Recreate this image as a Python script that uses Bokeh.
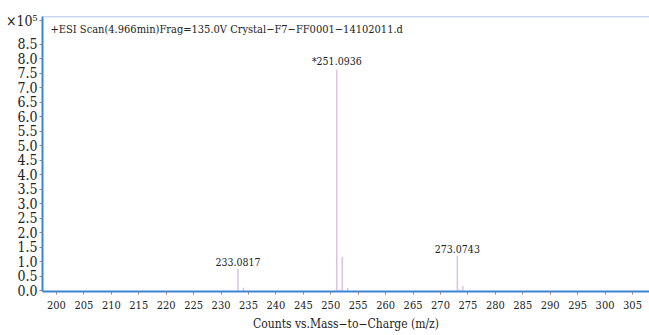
from bokeh.plotting import figure
from bokeh.models import ColumnDataSource, Label, Span, FixedTicker, NumeralTickFormatter, Range1d
from bokeh.core.properties import value
from bokeh.embed import file_html
from bokeh.resources import INLINE

# Data (intensity in units of 1e5 counts)
mz = [233.0817, 234.085, 251.0936, 251.6, 252.097, 253.09, 273.0743, 273.45, 274.078]
intensity = [0.75, 0.10, 7.62, 0.04, 1.16, 0.10, 1.20, 0.05, 0.16]
label_mz = [233.0817, 251.0936, 273.0743]
label_int = [0.75, 7.62, 1.20]
label_text = ["233.0817", "*251.0936", "273.0743"]
x_ticks = [200, 205, 210, 215, 220, 225, 230, 235, 240, 245, 250, 255, 260, 265, 270, 275, 280, 285, 290, 295, 300, 305]
y_ticks = [0.0, 0.5, 1.0, 1.5, 2.0, 2.5, 3.0, 3.5, 4.0, 4.5, 5.0, 5.5, 6.0, 6.5, 7.0, 7.5, 8.0, 8.5]
multiplier_pos = 9.3
multiplier_text = "\u00d710\u2075"

FONT = "DejaVu Serif Condensed"
Y_TOP = 9.45
H = 333

p = figure(width=649, height=H, output_backend="svg", toolbar_location=None,
           x_range=Range1d(197.45, 308.1), y_range=Range1d(-0.03, Y_TOP),
           min_border_left=42, min_border_right=0, min_border_top=16, min_border_bottom=40)
p.outline_line_color = None
p.grid.grid_line_color = None
p.background_fill_color = "white"

src = ColumnDataSource(dict(x=mz, top=intensity, bottom=[0] * len(mz)))
p.segment(x0="x", y0="bottom", x1="x", y1="top", source=src, line_color="#dcc3e0", line_width=1.5)

lsrc = ColumnDataSource(dict(x=label_mz, y=label_int, t=label_text))
p.text(x="x", y="y", text="t", source=lsrc, text_align="center", text_baseline="bottom",
       y_offset=-3, text_font=value(FONT), text_font_size="10.5px", text_color="#222222")

# top border
p.add_layout(Span(location=Y_TOP, dimension="width", line_color="#8fb4e0", line_width=1.5))

p.xaxis.ticker = FixedTicker(ticks=x_ticks)
p.yaxis.ticker = FixedTicker(ticks=y_ticks + [multiplier_pos])
p.yaxis.formatter = NumeralTickFormatter(format="0.0")
p.yaxis.major_label_overrides = {multiplier_pos: multiplier_text}
for ax in (p.xaxis, p.yaxis):
    ax.axis_line_color = "#3a85d6"
    ax.axis_line_width = 2
    ax.major_tick_line_color = "#888888"
    ax.minor_tick_line_color = None
    ax.major_tick_in = 0
    ax.major_tick_out = 3
    ax.major_label_text_color = "#222222"
    ax.major_label_text_font = FONT
p.xaxis.major_label_text_font_size = "11px"
p.yaxis.major_label_text_font_size = "14px"
p.xaxis.major_label_standoff = 6
p.yaxis.major_label_standoff = 2
p.xaxis.axis_label = "Counts vs.Mass\u2212to\u2212Charge (m/z)"
p.xaxis.axis_label_text_font = FONT
p.xaxis.axis_label_text_font_style = "normal"
p.xaxis.axis_label_text_font_size = "12px"
p.xaxis.axis_label_text_color = "#222222"
p.xaxis.axis_label_standoff = 5

p.add_layout(Label(x=8, y=256, x_units="screen", y_units="screen",
                   text="+ESI Scan(4.966min)Frag=135.0V Crystal\u2212F7\u2212FF0001\u221214102011.d",
                   text_font=FONT, text_font_size="11px", text_color="#222222", text_baseline="bottom"))

open("out.html", "w").write(file_html(p, INLINE))
